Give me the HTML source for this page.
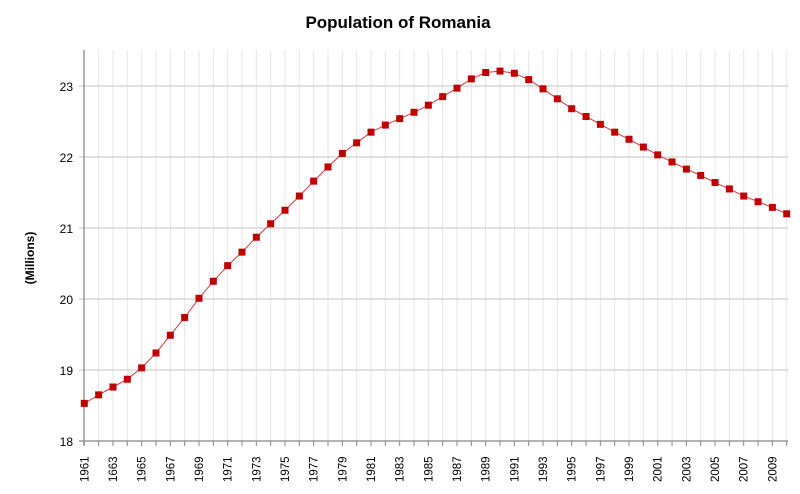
<!DOCTYPE html>
<html><head><meta charset="utf-8"><style>
html,body{margin:0;padding:0;background:#fff;width:800px;height:494px;overflow:hidden}
svg text{font-family:"Liberation Sans",sans-serif}
</style></head><body>
<svg id="c" width="800" height="494" xmlns="http://www.w3.org/2000/svg">
<text x="398" y="28" text-anchor="middle" font-size="17" font-weight="bold" fill="#000">Population of Romania</text>
<text transform="translate(34,258) rotate(-90)" text-anchor="middle" font-size="12" font-weight="bold" fill="#000">(Millions)</text>
<g id="g"></g>
</svg>
<script>
var g=document.getElementById('g'),s='';
var x0=84.3,dx=14.335,yb=441,py=71;
function X(i){return x0+i*dx}function Y(v){return yb-(v-18)*py}
for(var i=1;i<=49;i++){s+='<line x1="'+X(i)+'" y1="50" x2="'+X(i)+'" y2="441" stroke="#e6e6e6" stroke-width="1"/>';}
for(var v=19;v<=23;v++){s+='<line x1="79" y1="'+Y(v)+'" x2="788" y2="'+Y(v)+'" stroke="#cfcfcf" stroke-width="1.3"/>';}
for(var v=18;v<=23;v++){s+='<text x="73" y="'+(Y(v)+5)+'" text-anchor="end" font-size="12">'+v+'</text>';}
s+='<line x1="84" y1="50" x2="84" y2="446" stroke="#888" stroke-width="1.3"/>';
s+='<line x1="79" y1="441" x2="788" y2="441" stroke="#888" stroke-width="1.3"/>';
for(var i=0;i<=49;i++){s+='<line x1="'+X(i)+'" y1="441" x2="'+X(i)+'" y2="446" stroke="#888"/>';}
var labs=['1961','1663','1965','1967','1969','1971','1973','1975','1977','1979','1981','1983','1985','1987','1989','1991','1993','1995','1997','1999','2001','2003','2005','2007','2009'];
labs[1]='1663';
for(var k=0;k<labs.length;k++){var x=X(2*k)+4;s+='<text transform="translate('+x+',482) rotate(-90)" font-size="11.5">'+labs[k]+'</text>';}
var d=[18.53,18.65,18.76,18.87,19.03,19.24,19.49,19.74,20.01,20.25,20.47,20.66,20.87,21.06,21.25,21.45,21.66,21.86,22.05,22.20,22.35,22.45,22.54,22.63,22.73,22.85,22.97,23.10,23.19,23.21,23.18,23.09,22.96,22.82,22.68,22.57,22.46,22.35,22.25,22.14,22.03,21.93,21.83,21.74,21.64,21.55,21.45,21.37,21.29,21.20];
var p='';for(var i=0;i<d.length;i++)p+=(i?' ':'')+X(i).toFixed(1)+','+Y(d[i]).toFixed(1);
s+='<polyline points="'+p+'" fill="none" stroke="#d9383a" stroke-width="1"/>';
for(var i=0;i<d.length;i++)s+='<rect x="'+(X(i)-3.5)+'" y="'+(Y(d[i])-3.5)+'" width="7" height="7" fill="#c00000"/>';
g.innerHTML=s;
</script>
</body></html>
